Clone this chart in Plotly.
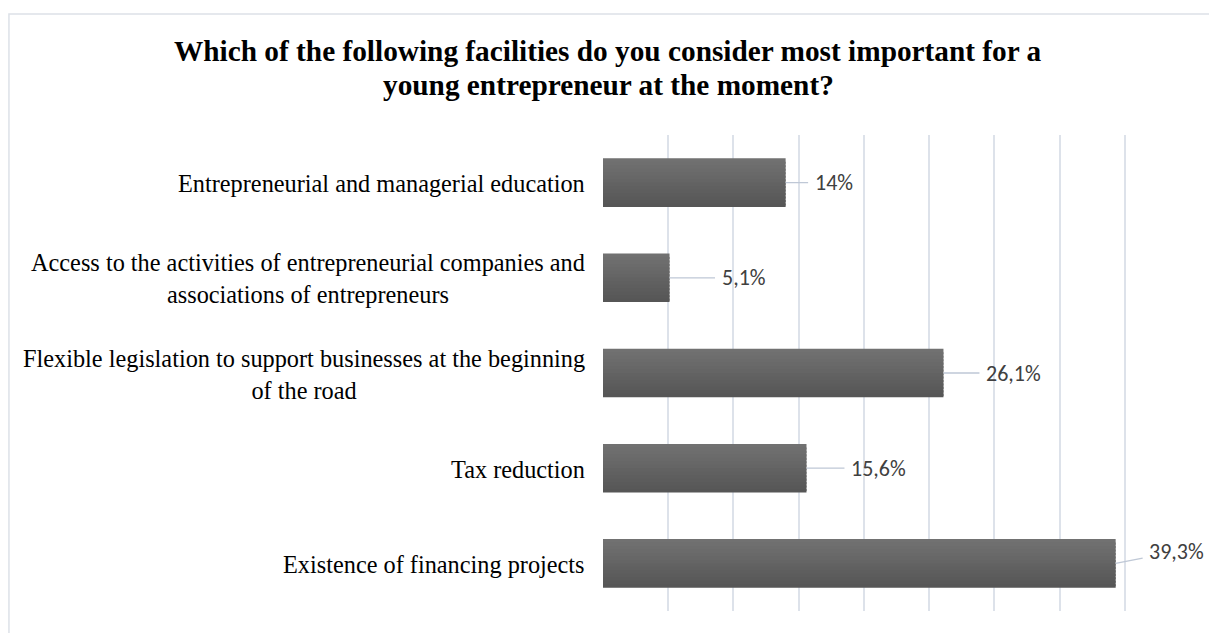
import plotly.graph_objects as go

# Survey answers, listed top to bottom as shown on the chart
categories = [
    "Entrepreneurial and managerial education",
    "Access to the activities of entrepreneurial companies and<br>associations of entrepreneurs",
    "Flexible legislation to support businesses at the beginning<br>of the road",
    "Tax reduction",
    "Existence of financing projects",
]
shares = [14.0, 5.1, 26.1, 15.6, 39.3]

# Pixel offsets of each value label from the end of its bar
label_dx = [48, 74, 70, 72, 61]
label_dy = [0, 0, 0, 0, -12]

title_lines = [
    "Which of the following facilities do you consider most important for a",
    "young entrepreneur at the moment?",
]

SERIF = "Liberation Serif, 'Times New Roman', serif"
BAR_WIDTH = 0.51
N_STRIPS = 14
TOP_RGB, BOTTOM_RGB = (113, 113, 113), (86, 86, 86)


def fmt_pct(v):
    s = f"{v:.1f}"
    if s.endswith(".0"):
        s = s[:-2]
    return s.replace(".", ",") + "%"


fig = go.Figure()

# Bars built from thin horizontal strips for a top-to-bottom shading
strip = BAR_WIDTH / N_STRIPS
for i in range(N_STRIPS):
    t = i / (N_STRIPS - 1)
    rgb = tuple(round(a + (b - a) * t) for a, b in zip(TOP_RGB, BOTTOM_RGB))
    last = i == N_STRIPS - 1
    fig.add_trace(go.Bar(
        x=shares,
        y=categories,
        orientation="h",
        marker=dict(color="rgb(%d,%d,%d)" % rgb, line=dict(width=0)),
        width=strip if last else strip * 1.6,
        offset=-BAR_WIDTH / 2 + i * strip,
        hoverinfo="skip",
    ))

# Value labels with leader lines
for cat, val, dx, dy in zip(categories, shares, label_dx, label_dy):
    fig.add_annotation(
        x=val, y=cat, xref="x", yref="y",
        text=fmt_pct(val),
        showarrow=True, arrowhead=0, arrowwidth=1.3, arrowcolor="#BFC8D6",
        ax=dx, ay=dy, borderpad=6,
        font=dict(family="Carlito, Lato, sans-serif", size=22, color="#404040"),
    )

# Category labels, right-aligned block with centred lines
for cat in categories:
    fig.add_annotation(
        x=0, y=cat, xref="paper", yref="y",
        xanchor="right", yanchor="middle", xshift=-16, yshift=-1,
        text=cat, align="center", showarrow=False,
        font=dict(family=SERIF, size=24.3, color="black"),
    )

# Chart title, two centred lines
title_y = [1.176, 1.106]
for line, ty in zip(title_lines, title_y):
    fig.add_annotation(
        x=(608 - 603) / 587, y=ty, xref="paper", yref="paper",
        xanchor="center", yanchor="middle", showarrow=False,
        text="<b>%s</b>" % line,
        font=dict(family=SERIF, size=29.3, color="black"),
    )

# Chart-area outline
fig.add_shape(
    type="rect", xref="paper", yref="paper",
    x0=-1.012, x1=1.05, y0=-0.07, y1=1.254,
    line=dict(color="#DDE1E8", width=1.5), fillcolor="rgba(0,0,0,0)",
    layer="below",
)

fig.update_layout(
    width=1209, height=633,
    margin=dict(l=603, r=19, t=135, b=22),
    paper_bgcolor="white", plot_bgcolor="white",
    showlegend=False, barmode="overlay",
    xaxis=dict(
        range=[0, 45], dtick=5, showgrid=True, gridcolor="#DDE2EA", gridwidth=2,
        zeroline=False, showticklabels=False, showline=False, ticks="", fixedrange=True,
    ),
    yaxis=dict(
        autorange="reversed", showgrid=False, zeroline=False, showline=False,
        ticks="", showticklabels=False,
    ),
)

fig.write_html("out.html")
